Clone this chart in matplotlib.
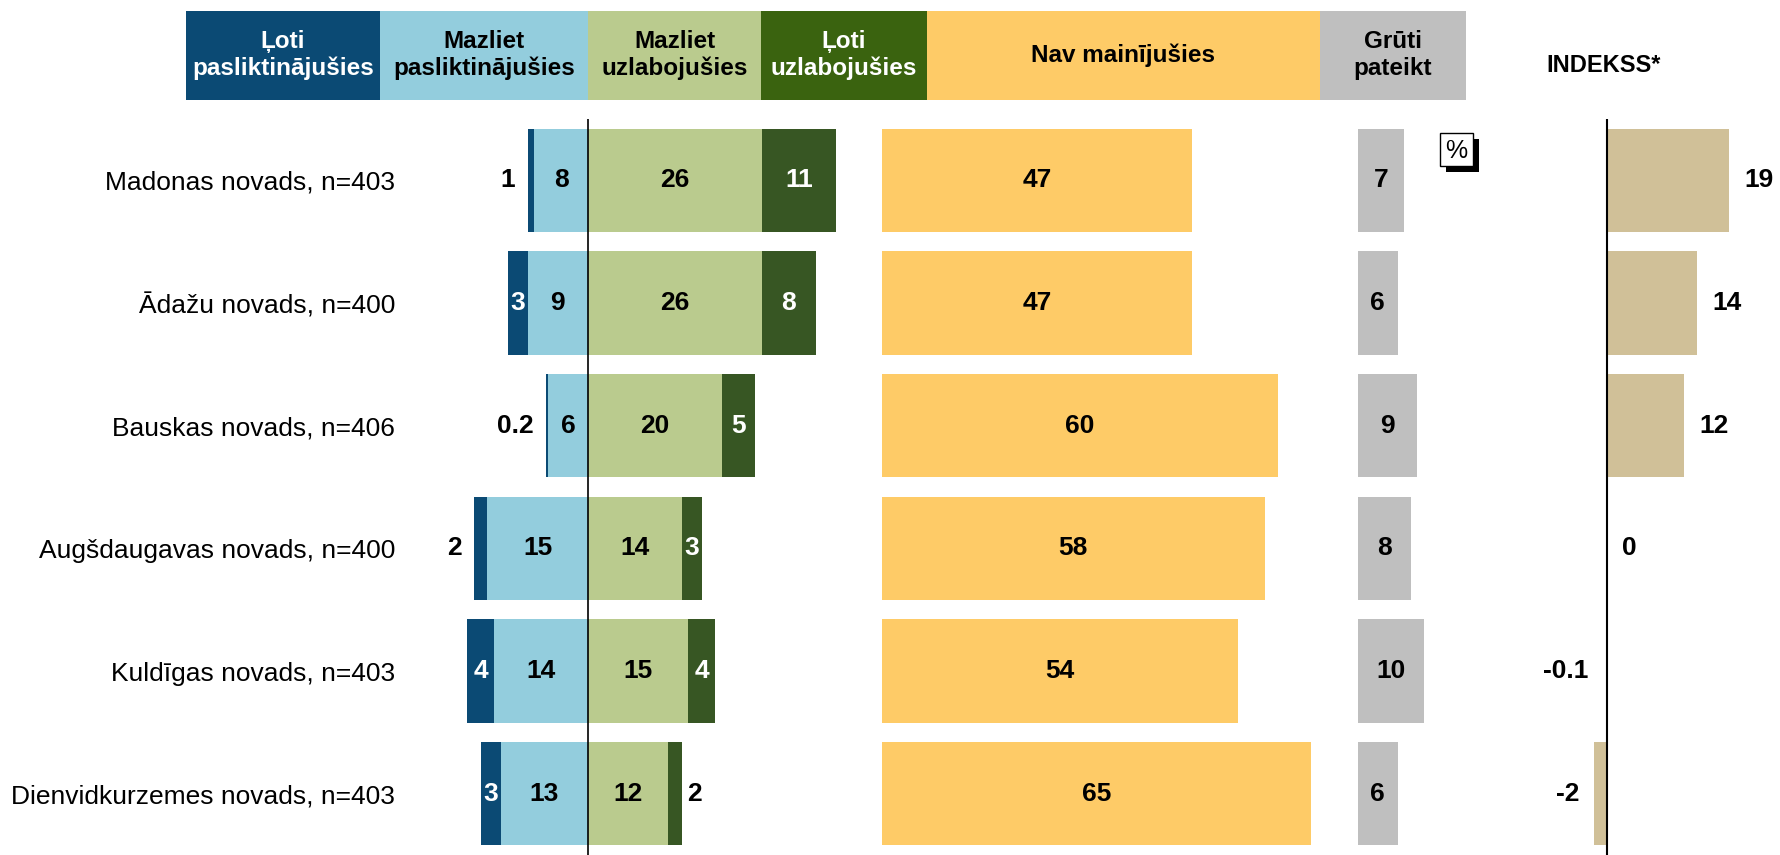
import numpy as np
import matplotlib
matplotlib.use('Agg')
import matplotlib.pyplot as plt
from matplotlib.patches import Rectangle

plt.rcParams['font.family'] = ['Liberation Sans', 'DejaVu Sans']

# data
regions = ["Madonas novads, n=403", "Ādažu novads, n=400", "Bauskas novads, n=406",
           "Augšdaugavas novads, n=400", "Kuldīgas novads, n=403",
           "Dienvidkurzemes novads, n=403"]
very_worse = [1, 3, 0.2, 2, 4, 3]
bit_worse = [8, 9, 6, 15, 14, 13]
bit_better = [26, 26, 20, 14, 15, 12]
very_better = [11, 8, 5, 3, 4, 2]
no_change = [47, 47, 60, 58, 54, 65]
hard_to_say = [7, 6, 9, 8, 10, 6]
index = [19, 14, 12, 0, -0.1, -2]

headers = ["Ļoti\npasliktinājušies", "Mazliet\npasliktinājušies", "Mazliet\nuzlabojušies",
           "Ļoti\nuzlabojušies", "Nav mainījušies", "Grūti\npateikt"]

C_DBLUE = '#0B4A74'
C_LBLUE = '#93CDDD'
C_LGREEN = '#BACB8E'
C_DGREEN = '#375623'
C_DGREEN_H = '#3A630F'
C_YELLOW = '#FECB67'
C_GRAY = '#BFBFBF'
C_TAN = '#D0C098'

W, H = 1781, 855
FS = 19
HFS = 17.5
SCALE = 6.7     # pixels per percentage point (diverging)
SCALE2 = 6.6    # pixels per percentage point (other panels)
ISCALE = 6.4    # pixels per index point

fig = plt.figure(figsize=(W / 100, H / 100), dpi=100)


def px_axes(x0, x1, y0, y1):
    ax = fig.add_axes([x0 / W, 1 - y1 / H, (x1 - x0) / W, (y1 - y0) / H])
    for s in ax.spines.values():
        s.set_visible(False)
    ax.set_xticks([])
    ax.set_yticks([])
    ax.set_ylim(len(regions) - 0.5, -0.5)
    return ax


def fmt(v):
    return f"{v:g}"


y = np.arange(len(regions))
bh = 0.84
TOP, BOT = 119, 855

# diverging panel
zero = 588
ax1 = px_axes(405, 860, TOP, BOT)
ax1.set_xlim((405 - zero) / SCALE, (860 - zero) / SCALE)
vw = np.array(very_worse)
bw = np.array(bit_worse)
bb = np.array(bit_better)
vb = np.array(very_better)
ax1.barh(y, vw, left=-(vw + bw), height=bh, color=C_DBLUE)
ax1.barh(y, bw, left=-bw, height=bh, color=C_LBLUE)
ax1.barh(y, bb, left=0, height=bh, color=C_LGREEN)
ax1.barh(y, vb, left=bb, height=bh, color=C_DGREEN)
ax1.axvline(0, color='black', lw=1.2)
ax1.set_yticks(y)
ax1.set_yticklabels(regions, fontsize=FS)
ax1.tick_params(axis='y', length=0, pad=7)

for i in range(len(regions)):
    if vw[i] < 3:
        ax1.annotate(fmt(vw[i]), (-(vw[i] + bw[i]), i), xytext=(-9, 0),
                     textcoords='offset points', ha='right', va='center',
                     fontsize=FS, fontweight='bold', color='black')
    else:
        ax1.text(-(bw[i] + vw[i] / 2), i, fmt(vw[i]), ha='center', va='center',
                 fontsize=FS, fontweight='bold', color='white')
    ax1.text(-bw[i] / 2, i, fmt(bw[i]), ha='center', va='center',
             fontsize=FS, fontweight='bold', color='black')
    ax1.text(bb[i] / 2, i, fmt(bb[i]), ha='center', va='center',
             fontsize=FS, fontweight='bold', color='black')
    if vb[i] < 3:
        ax1.annotate(fmt(vb[i]), (bb[i] + vb[i], i), xytext=(4, 0),
                     textcoords='offset points', ha='left', va='center',
                     fontsize=FS, fontweight='bold', color='black')
    else:
        ax1.text(bb[i] + vb[i] / 2, i, fmt(vb[i]), ha='center', va='center',
                 fontsize=FS, fontweight='bold', color='white')

# no change panel
ax2 = px_axes(882, 1330, TOP, BOT)
ax2.set_xlim(0, (1330 - 882) / SCALE2)
ax2.barh(y, no_change, height=bh, color=C_YELLOW)
for i, v in enumerate(no_change):
    ax2.text(v / 2, i, fmt(v), ha='center', va='center', fontsize=FS, fontweight='bold')

# hard to say panel
ax3 = px_axes(1358, 1435, TOP, BOT)
ax3.set_xlim(0, (1435 - 1358) / SCALE2)
ax3.barh(y, hard_to_say, height=bh, color=C_GRAY)
for i, v in enumerate(hard_to_say):
    ax3.text(v / 2, i, fmt(v), ha='center', va='center', fontsize=FS, fontweight='bold')

# index panel
izero = 1607
ax4 = px_axes(1500, W, TOP, BOT)
ax4.set_xlim((1500 - izero) / ISCALE, (W - izero) / ISCALE)
ax4.barh(y, index, height=bh, color=C_TAN)
ax4.axvline(0, color='black', lw=1.5)
for i, v in enumerate(index):
    if v >= 0:
        ax4.annotate(fmt(v), (v, i), xytext=(11, 0), textcoords='offset points',
                     ha='left', va='center', fontsize=FS, fontweight='bold')
    else:
        ax4.annotate(fmt(v), (min(v, -0.6), i), xytext=(-11, 0), textcoords='offset points',
                     ha='right', va='center', fontsize=FS, fontweight='bold')

# header boxes
hax = fig.add_axes([0, 0, 1, 1])
hax.set_xlim(0, W)
hax.set_ylim(H, 0)
hax.axis('off')
edges = [186, 380, 588, 761, 927, 1320, 1466]
hcolors = [C_DBLUE, C_LBLUE, C_LGREEN, C_DGREEN_H, C_YELLOW, C_GRAY]
tcolors = ['white', 'black', 'black', 'white', 'black', 'black']
for k in range(len(headers)):
    hax.add_patch(Rectangle((edges[k], 11), edges[k + 1] - edges[k], 89,
                            facecolor=hcolors[k], edgecolor='none'))
    hax.text((edges[k] + edges[k + 1]) / 2, 55, headers[k], ha='center', va='center',
             fontsize=HFS, fontweight='bold', color=tcolors[k], linespacing=1.22)
hax.text(1604, 66, "INDEKSS*", ha='center', va='center', fontsize=HFS - 0.5,
         fontweight='bold')

# percent box
hax.add_patch(Rectangle((1446, 139), 33, 33, facecolor='black', edgecolor='none'))
hax.add_patch(Rectangle((1440, 133), 33, 33, facecolor='white', edgecolor='black', lw=1))
hax.text(1456.5, 151, "%", ha='center', va='center', fontsize=18)

fig.savefig('out.png', dpi=100)
